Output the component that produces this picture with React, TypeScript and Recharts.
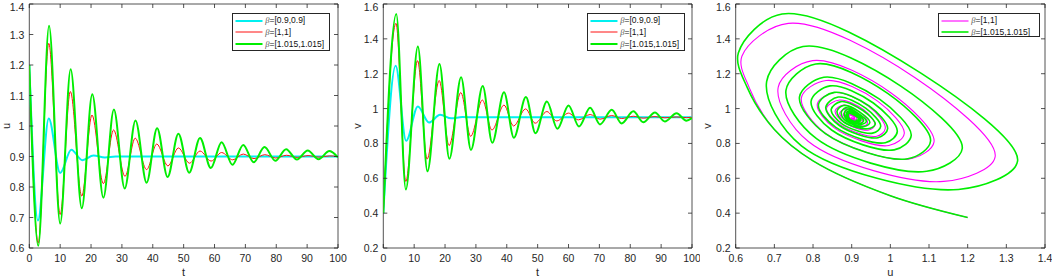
import React from 'react';
import { LineChart, Line, XAxis, YAxis, ReferenceArea, Legend } from 'recharts';

type Pt = [number, number];

// ---------- ticks ----------
const tTicks = [0, 10, 20, 30, 40, 50, 60, 70, 80, 90, 100];
const uTicks = [0.6, 0.7, 0.8, 0.9, 1.0, 1.1, 1.2, 1.3, 1.4];
const vTicks = [0.2, 0.4, 0.6, 0.8, 1.0, 1.2, 1.4, 1.6];
const phaseUTicks = [0.6, 0.7, 0.8, 0.9, 1.0, 1.1, 1.2, 1.3, 1.4];

// ---------- panel 1: u(t) ----------
const uCyan: Pt[] = [[0, 1.2], [2.8, 0.69], [6.3, 1.025], [10.0, 0.846], [13.6, 0.922], [17.2, 0.888], [20.8, 0.903], [24.5, 0.897], [28, 0.9], [40, 0.9], [100, 0.9]];
const uRed: Pt[] = [[0, 1.2], [2.9, 0.616], [6.3, 1.271], [10.0, 0.71], [13.3, 1.113], [17.0, 0.77], [20.3, 1.036], [24.0, 0.811], [27.3, 0.987], [31.0, 0.835], [34.3, 0.96], [38.0, 0.857], [41.3, 0.941], [44.9, 0.869], [48.3, 0.928], [51.9, 0.878], [55.3, 0.918], [58.9, 0.885], [62.3, 0.913], [65.9, 0.889], [69.3, 0.908], [72.8, 0.893], [76.3, 0.906], [79.8, 0.895], [83.3, 0.904], [86.8, 0.897], [90.3, 0.903], [93.8, 0.898], [97.3, 0.902], [100, 0.9]];
const uGreen: Pt[] = [[0, 1.2], [2.9, 0.607], [6.4, 1.329], [10.0, 0.68], [13.4, 1.186], [17.0, 0.73], [20.4, 1.104], [24.0, 0.765], [27.4, 1.054], [30.9, 0.795], [34.4, 1.018], [38.0, 0.814], [41.4, 0.993], [44.8, 0.833], [48.3, 0.975], [51.8, 0.847], [55.3, 0.961], [58.8, 0.862], [62.3, 0.947], [65.8, 0.873], [69.3, 0.938], [72.7, 0.881], [76.2, 0.931], [79.7, 0.886], [83.2, 0.924], [86.7, 0.89], [90.2, 0.92], [93.7, 0.891], [97.2, 0.918], [100, 0.897]];

// ---------- panel 2: v(t) ----------
const vCyan: Pt[] = [[0, 0.4], [4.0, 1.245], [7.4, 0.815], [11.2, 1.012], [14.8, 0.92], [18.4, 0.964], [22.0, 0.944], [25.6, 0.951], [30, 0.95], [40, 0.95], [100, 0.95]];
const vRed: Pt[] = [[0, 0.4], [4.1, 1.489], [7.3, 0.582], [11.1, 1.275], [14.2, 0.71], [18.1, 1.161], [21.3, 0.788], [25.1, 1.092], [28.3, 0.841], [32.1, 1.049], [35.2, 0.877], [39.1, 1.02], [42.2, 0.9], [46.1, 0.998], [49.2, 0.916], [53.0, 0.983], [56.2, 0.929], [60.0, 0.974], [63.2, 0.935], [67.0, 0.966], [70.2, 0.939], [74.0, 0.96], [77.2, 0.943], [81.0, 0.956], [84.2, 0.945], [88.0, 0.954], [91.2, 0.947], [95.0, 0.952], [98.2, 0.948], [100, 0.95]];
const vGreen: Pt[] = [[0, 0.4], [4.2, 1.543], [7.3, 0.536], [11.2, 1.356], [14.3, 0.64], [18.2, 1.256], [21.4, 0.712], [25.2, 1.18], [28.4, 0.763], [32.2, 1.13], [35.3, 0.804], [39.1, 1.093], [42.3, 0.833], [46.2, 1.066], [49.3, 0.859], [53.0, 1.04], [56.4, 0.884], [60.0, 1.018], [63.4, 0.897], [67.0, 1.004], [70.2, 0.909], [74.0, 0.993], [77.2, 0.915], [81.0, 0.984], [84.2, 0.921], [88.0, 0.977], [91.2, 0.926], [95.0, 0.973], [98.2, 0.93], [100, 0.945]];

// ---------- panel 3: phase (u, v) ----------
const phaseMagenta: Pt[] = [
  [1.2, 0.375], [1.0, 0.5], [0.8, 0.7], [0.7, 0.88], [0.635, 1.12], [0.616, 1.3],
  [0.736, 1.489], [1.064, 1.177], [1.271, 0.723], [1.138, 0.582], [0.788, 0.811], [0.71, 1.123],
  [0.799, 1.275], [1.001, 1.091], [1.113, 0.809], [1.046, 0.71], [0.831, 0.86], [0.77, 1.063],
  [0.834, 1.161], [0.967, 1.043], [1.036, 0.857], [0.996, 0.788], [0.855, 0.889], [0.811, 1.026],
  [0.856, 1.092], [0.944, 1.013], [0.987, 0.887], [0.965, 0.841], [0.87, 0.908], [0.835, 1.002],
  [0.869, 1.049], [0.931, 0.993], [0.96, 0.907], [0.944, 0.877], [0.879, 0.921], [0.857, 0.986],
  [0.879, 1.02], [0.921, 0.98], [0.941, 0.92], [0.931, 0.9], [0.886, 0.93], [0.869, 0.9745],
  [0.885, 0.998], [0.915, 0.9705], [0.928, 0.9295], [0.921, 0.916], [0.89, 0.9365], [0.878, 0.967],
  [0.89, 0.983], [0.91, 0.9635], [0.918, 0.9365], [0.914, 0.929], [0.893, 0.941], [0.885, 0.961],
  [0.893, 0.974], [0.907, 0.96], [0.913, 0.94], [0.91, 0.935], [0.895, 0.944], [0.889, 0.958],
  [0.895, 0.966], [0.905, 0.958], [0.908, 0.942], [0.906, 0.939], [0.896, 0.946], [0.893, 0.956],
  [0.897, 0.96], [0.903, 0.955], [0.906, 0.944], [0.904, 0.943], [0.899, 0.95],
];
const phaseGreen: Pt[] = [
  [1.2, 0.375], [1.0, 0.5], [0.8, 0.7], [0.7, 0.88], [0.63, 1.12], [0.607, 1.32],
  [0.72, 1.543], [1.08, 1.202], [1.329, 0.698], [1.176, 0.536], [0.77, 0.786], [0.68, 1.155],
  [0.774, 1.356], [1.027, 1.129], [1.186, 0.771], [1.094, 0.64], [0.809, 0.827], [0.73, 1.104],
  [0.807, 1.256], [0.994, 1.086], [1.104, 0.814], [1.045, 0.712], [0.832, 0.856], [0.765, 1.067],
  [0.828, 1.18], [0.972, 1.054], [1.054, 0.846], [1.01, 0.763], [0.848, 0.877], [0.795, 1.042],
  [0.844, 1.13], [0.956, 1.032], [1.018, 0.869], [0.987, 0.804], [0.859, 0.892], [0.814, 1.022],
  [0.855, 1.093], [0.945, 1.015], [0.993, 0.885], [0.968, 0.833], [0.868, 0.903], [0.833, 1.008],
  [0.865, 1.066], [0.936, 1.002], [0.975, 0.898], [0.954, 0.859], [0.874, 0.914], [0.847, 0.995],
  [0.872, 1.04], [0.929, 0.989], [0.961, 0.911], [0.942, 0.884], [0.88, 0.923], [0.862, 0.984],
  [0.879, 1.018], [0.921, 0.98], [0.947, 0.92], [0.931, 0.897], [0.885, 0.929], [0.873, 0.977],
  [0.884, 1.004], [0.916, 0.974], [0.938, 0.926], [0.924, 0.909], [0.889, 0.933], [0.881, 0.971],
  [0.888, 0.993], [0.913, 0.97], [0.931, 0.93], [0.919, 0.915], [0.891, 0.936], [0.886, 0.967],
  [0.891, 0.984], [0.91, 0.966], [0.924, 0.934], [0.914, 0.921], [0.893, 0.939], [0.89, 0.964],
  [0.893, 0.977], [0.908, 0.963], [0.92, 0.937], [0.912, 0.926], [0.894, 0.941], [0.891, 0.962],
  [0.893, 0.973], [0.907, 0.961], [0.918, 0.939], [0.91, 0.932],
];

// ---------- legend labels ----------
const betaLabels = ['[0.9,0.9]', '[1,1]', '[1.015,1.015]'];

// ---------- styling ----------
const H = 278;
const AX = '#262626';
const FONT = '"Liberation Sans", Arial, Helvetica, sans-serif';
const CYAN = '#00f0f0';
const RED = '#ff1010';
const GREEN = '#00ee00';
const MAGENTA = '#ff00ff';

const fmt = (v: number) => String(Math.round(v * 10) / 10);
const toXY = (a: Pt[]) => a.map(([x, y]) => ({ x, y }));

// centripetal Catmull-Rom curve (d3 curve-factory interface) for the parametric phase curve
function catmullRom(context: any) {
  const alpha = 0.5;
  let x0 = NaN, y0 = NaN, x1 = NaN, y1 = NaN, x2 = NaN, y2 = NaN;
  let l01a = 0, l12a = 0, l23a = 0, l01_2a = 0, l12_2a = 0, l23_2a = 0;
  let pIdx = 0;
  let lineState: number = NaN;
  const emit = (x: number, y: number) => {
    let cx1 = x1, cy1 = y1, cx2 = x2, cy2 = y2;
    if (l01a > 1e-12) {
      const a = 2 * l01_2a + 3 * l01a * l12a + l12_2a;
      const n = 3 * l01a * (l01a + l12a);
      cx1 = (x1 * a - x0 * l12_2a + x2 * l01_2a) / n;
      cy1 = (y1 * a - y0 * l12_2a + y2 * l01_2a) / n;
    }
    if (l23a > 1e-12) {
      const b = 2 * l23_2a + 3 * l23a * l12a + l12_2a;
      const m = 3 * l23a * (l23a + l12a);
      cx2 = (x2 * b + x1 * l23_2a - x * l12_2a) / m;
      cy2 = (y2 * b + y1 * l23_2a - y * l12_2a) / m;
    }
    context.bezierCurveTo(cx1, cy1, cx2, cy2, x2, y2);
  };
  const self: any = {
    areaStart() { lineState = 0; },
    areaEnd() { lineState = NaN; },
    lineStart() {
      x0 = x1 = x2 = y0 = y1 = y2 = NaN;
      l01a = l12a = l23a = l01_2a = l12_2a = l23_2a = 0;
      pIdx = 0;
    },
    lineEnd() {
      if (pIdx === 2) context.lineTo(x2, y2);
      else if (pIdx === 3) self.point(x2, y2);
      if (lineState || (lineState !== 0 && pIdx === 1)) context.closePath();
      lineState = 1 - lineState;
    },
    point(xIn: number, yIn: number) {
      const x = +xIn, y = +yIn;
      if (pIdx) {
        const x23 = x2 - x, y23 = y2 - y;
        l23_2a = Math.pow(x23 * x23 + y23 * y23, alpha);
        l23a = Math.sqrt(l23_2a);
      }
      if (pIdx === 0) {
        pIdx = 1;
        if (lineState) context.lineTo(x, y); else context.moveTo(x, y);
      } else if (pIdx === 1) {
        pIdx = 2;
      } else {
        pIdx = 3;
        emit(x, y);
      }
      l01a = l12a; l12a = l23a; l01_2a = l12_2a; l12_2a = l23_2a;
      x0 = x1; x1 = x2; x2 = x; y0 = y1; y1 = y2; y2 = y;
    },
  };
  return self;
}

interface Series { name: string; beta: string; color: string; width: number; data: { x: number; y: number }[] }
interface PanelCfg {
  left: number; width: number;
  plot: { l: number; r: number; t: number; b: number };
  xDomain: [number, number]; yDomain: [number, number];
  xTicks: number[]; yTicks: number[];
  xTitle: string; yTitle: string; yTitleX: number;
  curve: any;
  series: Series[];
  legendBox: { l: number; t: number; w: number; h: number };
}

const AxisTitle = (p: any) => (
  <text
    x={p.px}
    y={p.py}
    transform={p.rot ? `rotate(-90 ${p.px} ${p.py})` : undefined}
    textAnchor="middle"
    dominantBaseline="central"
    fontSize={11}
    fill={AX}
    fontFamily={FONT}
  >
    {p.txt}
  </text>
);

const LegendBox = ({ items, w, h }: { items: Series[]; w: number; h: number }) => (
  <div
    style={{
      width: w, height: h, boxSizing: 'border-box', border: `1px solid ${AX}`, background: '#fff',
      paddingTop: 0.5, fontFamily: FONT, fontSize: 8.5, color: '#111', lineHeight: 1,
    }}
  >
    {items.map((s) => (
      <div key={s.name} style={{ display: 'flex', alignItems: 'center', height: 11.7 }}>
        <svg width={32} height={6} style={{ display: 'block', flex: 'none' }}>
          <line x1={2.5} y1={3} x2={29.5} y2={3} stroke={s.color} strokeWidth={s.width} />
        </svg>
        <span style={{ whiteSpace: 'nowrap' }}>
          <span style={{ fontStyle: 'italic', fontFamily: '"Liberation Serif", "DejaVu Serif", serif', color: '#555' }}>β</span>
          ={s.beta}
        </span>
      </div>
    ))}
  </div>
);

function Panel({ cfg }: { cfg: PanelCfg }) {
  const { left, width, plot } = cfg;
  const pl = plot.l - left;
  const pr = plot.r - left;
  const pt = plot.t;
  const pb = plot.b;

  const XTick = (p: any) => (
    <g>
      <line x1={p.x} y1={p.y} x2={p.x} y2={p.y - 4} stroke={AX} strokeWidth={0.8} />
      <line x1={p.x} y1={pt} x2={p.x} y2={pt + 4} stroke={AX} strokeWidth={0.8} />
      <text x={p.x} y={p.y + 10} textAnchor="middle" dominantBaseline="central" fontSize={10.5} fill={AX} fontFamily={FONT}>
        {fmt(p.payload.value)}
      </text>
    </g>
  );
  const YTick = (p: any) => (
    <g>
      <line x1={p.x} y1={p.y} x2={p.x + 4} y2={p.y} stroke={AX} strokeWidth={0.8} />
      <line x1={pr} y1={p.y} x2={pr - 4} y2={p.y} stroke={AX} strokeWidth={0.8} />
      <text x={p.x - 5} y={Math.max(p.y, 6.5)} textAnchor="end" dominantBaseline="central" fontSize={10.5} fill={AX} fontFamily={FONT}>
        {fmt(p.payload.value)}
      </text>
    </g>
  );

  const lb = cfg.legendBox;
  return (
    <div style={{ position: 'absolute', left, top: 0, width, height: H }}>
      <LineChart width={width} height={H} margin={{ top: pt, right: width - pr, bottom: 0, left: 0 }}>
        <XAxis
          type="number" dataKey="x" domain={cfg.xDomain} ticks={cfg.xTicks} interval={0} allowDataOverflow
          tick={XTick} tickLine={false} axisLine={false} tickSize={0} tickMargin={0} height={H - pb}
          label={<AxisTitle px={(pl + pr) / 2} py={272} txt={cfg.xTitle} />}
        />
        <YAxis
          type="number" dataKey="y" domain={cfg.yDomain} ticks={cfg.yTicks} interval={0} allowDataOverflow
          tick={YTick} tickLine={false} axisLine={false} tickSize={0} tickMargin={0} width={pl}
          label={<AxisTitle px={cfg.yTitleX - left} py={(pt + pb) / 2} txt={cfg.yTitle} rot />}
        />
        {cfg.series.map((s) => (
          <Line
            key={s.name} name={s.name} data={s.data} dataKey="y" type={cfg.curve}
            stroke={s.color} strokeWidth={s.width} dot={false} activeDot={false} isAnimationActive={false}
          />
        ))}
        <ReferenceArea
          x1={cfg.xDomain[0]} x2={cfg.xDomain[1]} y1={cfg.yDomain[0]} y2={cfg.yDomain[1]}
          fill="none" stroke={AX} strokeWidth={0.8} ifOverflow="visible"
        />
        <Legend
          layout="vertical" align="center" verticalAlign="middle"
          wrapperStyle={{ left: lb.l - left, top: lb.t, width: lb.w, height: lb.h }}
          content={() => <LegendBox items={cfg.series} w={lb.w} h={lb.h} />}
        />
      </LineChart>
    </div>
  );
}

const panel1: PanelCfg = {
  left: 0, width: 350,
  plot: { l: 29.3, r: 338, t: 4, b: 248 },
  xDomain: [0, 100], yDomain: [0.6, 1.4], xTicks: tTicks, yTicks: uTicks,
  xTitle: 't', yTitle: 'u', yTitleX: 6,
  curve: 'monotone',
  series: [
    { name: 'cyan', beta: betaLabels[0], color: CYAN, width: 2, data: toXY(uCyan) },
    { name: 'red', beta: betaLabels[1], color: RED, width: 1, data: toXY(uRed) },
    { name: 'green', beta: betaLabels[2], color: GREEN, width: 2, data: toXY(uGreen) },
  ],
  legendBox: { l: 232.3, t: 13.3, w: 98, h: 37.4 },
};

const panel2: PanelCfg = {
  left: 350, width: 350,
  plot: { l: 383.3, r: 692, t: 4, b: 248 },
  xDomain: [0, 100], yDomain: [0.2, 1.6], xTicks: tTicks, yTicks: vTicks,
  xTitle: 't', yTitle: 'v', yTitleX: 357,
  curve: 'monotone',
  series: [
    { name: 'cyan', beta: betaLabels[0], color: CYAN, width: 2, data: toXY(vCyan) },
    { name: 'red', beta: betaLabels[1], color: RED, width: 1, data: toXY(vRed) },
    { name: 'green', beta: betaLabels[2], color: GREEN, width: 2, data: toXY(vGreen) },
  ],
  legendBox: { l: 587.3, t: 13.3, w: 98, h: 37.4 },
};

const panel3: PanelCfg = {
  left: 700, width: 352,
  plot: { l: 735.7, r: 1045, t: 4, b: 248 },
  xDomain: [0.6, 1.4], yDomain: [0.2, 1.6], xTicks: phaseUTicks, yTicks: vTicks,
  xTitle: 'u', yTitle: 'v', yTitleX: 707,
  curve: catmullRom,
  series: [
    { name: 'magenta', beta: betaLabels[1], color: MAGENTA, width: 1.1, data: toXY(phaseMagenta) },
    { name: 'green', beta: betaLabels[2], color: GREEN, width: 1.6, data: toXY(phaseGreen) },
  ],
  legendBox: { l: 938.3, t: 13.3, w: 101.7, h: 24 },
};

export default function App() {
  return (
    <div style={{ position: 'absolute', left: 0, top: 0, width: 1052, height: H, background: '#fff', overflow: 'hidden' }}>
      <Panel cfg={panel1} />
      <Panel cfg={panel2} />
      <Panel cfg={panel3} />
    </div>
  );
}
